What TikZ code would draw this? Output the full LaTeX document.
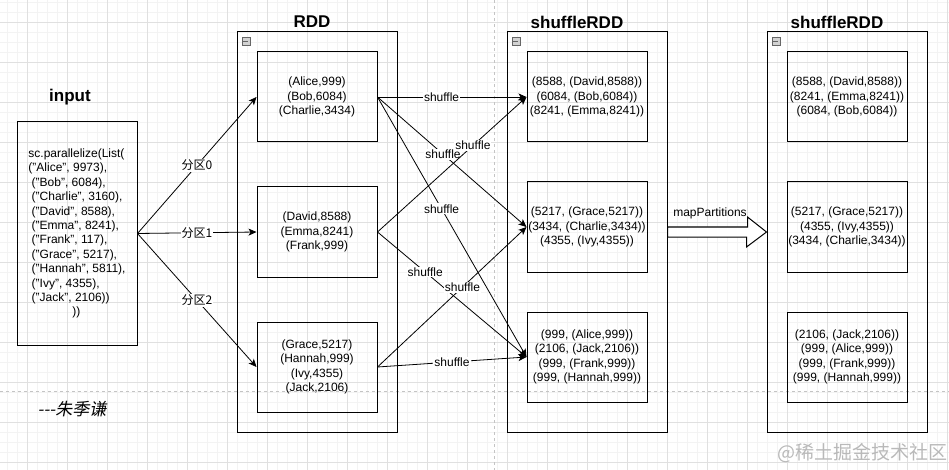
\documentclass[tikz,border=0pt]{standalone}
\usepackage{fontspec}
\setmainfont{Liberation Sans}
\newfontfamily\cjk{Noto Sans CJK SC}
\newfontfamily\cjkit[FakeSlant=0.2]{Noto Sans CJK SC}
\usetikzlibrary{arrows.meta,positioning}
\definecolor{gridmajor}{HTML}{E0E0E0}
\definecolor{gridminor}{HTML}{F3F3F3}
\definecolor{pagebreak}{HTML}{C4C4C4}
\begin{document}
\begin{tikzpicture}[x=1pt,y=-1pt,
    part/.style={draw,line width=1pt,minimum width=120pt,minimum height=90pt,inner sep=0pt,
      align=center,font=\fontsize{12}{14.5}\selectfont},
    grp/.style={draw,line width=1pt,minimum width=160pt,minimum height=400pt,inner sep=0pt},
    ttl/.style={font=\fontsize{17}{20}\selectfont\bfseries},
    lbl/.style={fill=white,inner sep=1pt,font=\fontsize{12}{14}\selectfont},
    arr/.style={-{Stealth[length=8pt,width=7pt,inset=2pt]},line width=0.8pt},
    minus/.style={draw=gray!80!black,fill=gray!35,minimum size=8pt,inner sep=0pt,
      path picture={\draw[line width=0.9pt] ([xshift=1.5pt]path picture bounding box.west)
        -- ([xshift=-1.5pt]path picture bounding box.east);}}]
  \useasboundingbox (0,0) rectangle (949,470);
  \fill[white] (0,0) rectangle (949,470);

  % grid
  \foreach \x in {7,17,...,947} \draw[gridminor,line width=0.5pt] (\x,0) -- (\x,470);
  \foreach \y in {2,12,...,462} \draw[gridminor,line width=0.5pt] (0,\y) -- (949,\y);
  \foreach \x in {27,67,...,947} \draw[gridmajor,line width=0.7pt] (\x,0) -- (\x,470);
  \foreach \y in {22,62,...,462} \draw[gridmajor,line width=0.7pt] (0,\y) -- (949,\y);
  \draw[pagebreak,line width=0.6pt,dash pattern=on 3pt off 3pt] (494,0) -- (494,470);
  \draw[pagebreak,line width=0.6pt,dash pattern=on 3pt off 3pt] (0,391) -- (949,391);

  % input
  \node (tin) at (70,97) [ttl] {input};
  \node (in) at (77,233.5) [draw,line width=1pt,minimum width=120pt,minimum height=223pt,
    inner sep=0pt,align=left,font=\fontsize{12}{14.4}\selectfont]
    {sc.parallelize(List(\\("Alice", 9973),\\\hspace*{3.3pt}("Bob", 6084),\\
     \hspace*{3.3pt}("Charlie", 3160),\\\hspace*{3.3pt}("David", 8588),\\
     \hspace*{3.3pt}("Emma", 8241),\\\hspace*{3.3pt}("Frank", 117),\\
     \hspace*{3.3pt}("Grace", 5217),\\\hspace*{3.3pt}("Hannah", 5811),\\
     \hspace*{3.3pt}("Ivy", 4355),\\\hspace*{3.3pt}("Jack", 2106))\\
     \hspace*{44pt}))};

  % containers
  \node (trdd) at (312,22) [ttl] {RDD};
  \node (tshf) at (577,22) [ttl] {shuffleRDD};
  \node (tres) at (837,22) [ttl] {shuffleRDD};
  \node (rdd) at (317,232) [grp] {};
  \node (shf) at (587,232) [grp] {};
  \node (res) at (847,232) [grp] {};
  \foreach \g in {rdd,shf,res}
    \node (m\g) [minus,below right=6pt and 5pt of \g.north west] {};

  % partitions
  \node (r1) at (317,97) [part] {(Alice,999)\\(Bob,6084)\\(Charlie,3434)};
  \node (r2) at (317,232) [part] {(David,8588)\\(Emma,8241)\\(Frank,999)};
  \node (r3) at (317,367) [part] {(Grace,5217)\\(Hannah,999)\\(Ivy,4355)\\(Jack,2106)};
  \node (s1) at (587,97) [part] {(8588, (David,8588))\\(6084, (Bob,6084))\\(8241, (Emma,8241))};
  \node (s2) at (587,227) [part] {(5217, (Grace,5217))\\(3434, (Charlie,3434))\\(4355, (Ivy,4355))};
  \node (s3) at (587,357) [part] {(999, (Alice,999))\\(2106, (Jack,2106))\\(999, (Frank,999))\\(999, (Hannah,999))};
  \node (t1) at (847,97) [part] {(8588, (David,8588))\\(8241, (Emma,8241))\\(6084, (Bob,6084))};
  \node (t2) at (847,227) [part] {(5217, (Grace,5217))\\(4355, (Ivy,4355))\\(3434, (Charlie,3434))};
  \node (t3) at (847,357) [part] {(2106, (Jack,2106))\\(999, (Alice,999))\\(999, (Frank,999))\\(999, (Hannah,999))};

  % partition edges
  \foreach \i/\k in {1/0,2/1,3/2}
    \draw[arr] (in.east) -- (r\i.west) node[lbl,midway] (p\k) {\cjk 分区\k};

  % shuffle edges
  \foreach \a/\b/\p in {1/1/0.43,1/2/0.44,1/3/0.43,2/1/0.64,2/3/0.32,3/2/0.57,3/3/0.5}
    \draw[arr] (r\a.east) -- (s\b.west) node[lbl,pos=\p] (sh\a\b) {shuffle};

  % mapPartitions
  \draw[line width=1pt,fill=white] ([yshift=5pt]shf.east) -- ++(80,0) -- ++(0,-10)
    -- (res.west) -- ++(-20,15) -- ++(0,-10) -- ([yshift=-5pt]shf.east) -- cycle;
  \node (mp) at (710,213) [font=\fontsize{12}{14}\selectfont] {mapPartitions};

  \node (auth) at (72,409) [font=\fontsize{17}{20}\cjkit] {-{}-{}-朱季谦};
  \node (wm) at (862,453) [text=gray!55,font=\fontsize{19}{22}\cjk] {@稀土掘金技术社区};
\end{tikzpicture}
\end{document}
